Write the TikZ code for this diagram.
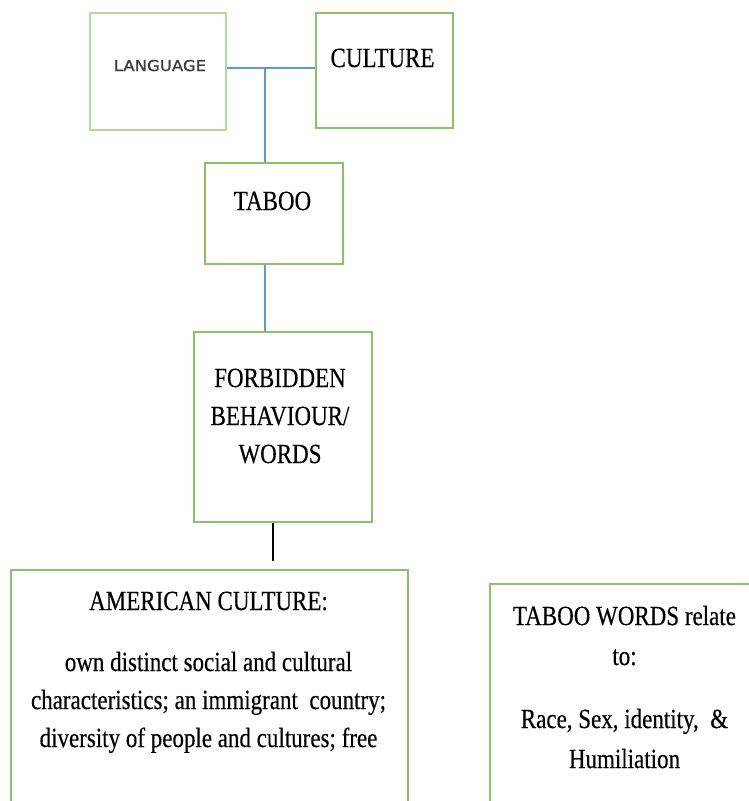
\documentclass[tikz,border=0pt]{standalone}
\usepackage{fontspec}
\newfontfamily\tnr[FakeStretch=0.83,FakeBold=0.35]{Liberation Serif}
\newfontfamily\langfont[FakeStretch=1.1,FakeBold=1.2]{DejaVu Sans}
\definecolor{boxgreen}{HTML}{8CC168}
\definecolor{lightgreen}{HTML}{B4D99C}
\definecolor{linkblue}{HTML}{5B9BD5}
\definecolor{langgray}{HTML}{3F3F3F}
\tikzset{
  gbox/.style={draw=boxgreen, line width=2pt, rectangle, inner sep=0pt},
  lbox/.style={draw=lightgreen, line width=2pt, rectangle, inner sep=0pt},
  txt/.style={font=\tnr\fontsize{27.7}{38}\selectfont, inner sep=0pt, anchor=base, align=center},
  bluelink/.style={draw=linkblue, line width=2pt},
  blacklink/.style={draw=black, line width=1.5pt}
}
\begin{document}
\begin{tikzpicture}[x=1pt,y=-1pt]
\useasboundingbox (0,0) rectangle (748,801);
% boxes
\node[lbox, minimum width=136pt, minimum height=117pt] (lang) at (158,71.5) {};
\node[gbox, minimum width=137pt, minimum height=115pt] (cult) at (384.5,70.5) {};
\node[gbox, minimum width=138pt, minimum height=101pt] (taboo) at (274,213) {};
\node[gbox, minimum width=178pt, minimum height=190pt] (forb) at (282.5,427) {};
\node[gbox, minimum width=397pt, minimum height=260pt] (amer) at (209.5,700) {};
\node[gbox, minimum width=270pt, minimum height=246pt] (words) at (625,707) {};
% texts (anchor base = baseline of the last line)
\node[font=\langfont\fontsize{15}{18}\selectfont, text=langgray, inner sep=0pt, anchor=base] (langt) at (160,71) {LANGUAGE};
\node[txt] (cultt) at (382.5,67) {CULTURE};
\node[txt] (tabt) at (272.5,210) {TABOO};
\node[txt] (forbt) at (280,463) {FORBIDDEN\\BEHAVIOUR/\\WORDS};
\node[txt] (amert) at (208.5,747) {AMERICAN CULTURE:\\[23pt]own distinct social and cultural\\characteristics; an immigrant\ \ country;\\diversity of people and cultures; free};
\node[txt] (wordst) at (624.5,768) {TABOO WORDS relate\\[2pt]to:\\[25pt]Race, Sex, identity,\ \ \&\\[2pt]Humiliation};
% connectors
\coordinate (j) at (265,68);
\draw[bluelink] (lang.east |- j) -- (cult.west |- j);
\draw[bluelink] (j) -- (j |- taboo.north);
\draw[bluelink] (taboo.south -| j) -- (forb.north -| j);
\draw[blacklink] (forb.south -| 273,0) -- (273,561);
\end{tikzpicture}
\end{document}
